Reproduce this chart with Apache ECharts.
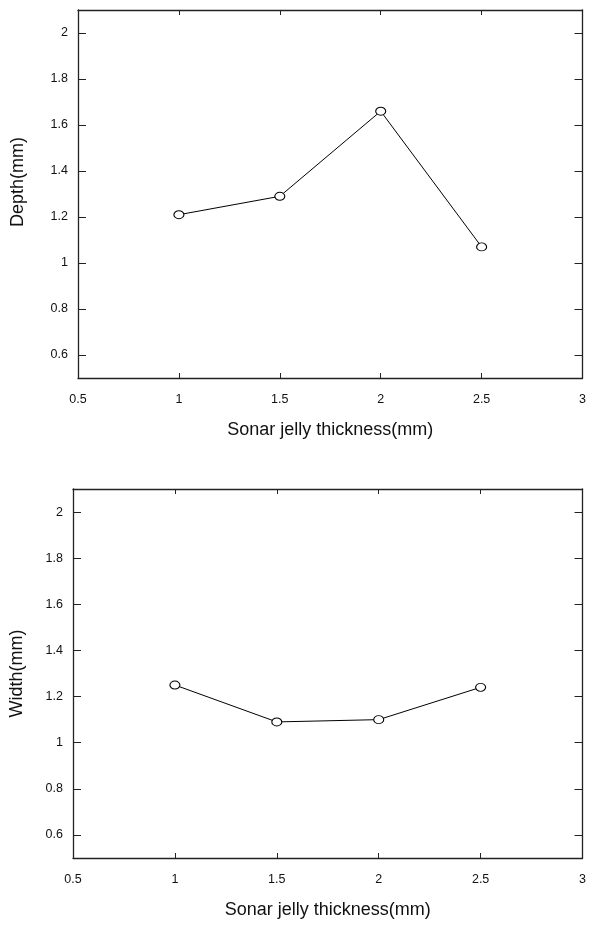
<!DOCTYPE html>
<html>
<head>
<meta charset="utf-8">
<script src="https://cdn.jsdelivr.net/npm/echarts@6/dist/echarts.min.js"></script>
<style>
html, body { margin: 0; padding: 0; background: #fff; }
#chart { width: 589px; height: 926px; }
</style>
</head>
<body>
<div id="chart"></div>
<script>
// data
const thickness = [1, 1.5, 2, 2.5]
const depth = [1.21, 1.29, 1.66, 1.07]
const widthVals = [1.25, 1.09, 1.10, 1.24]
const yTicks = [0.6, 0.8, 1, 1.2, 1.4, 1.6, 1.8, 2]
const xInnerTicks = [1, 1.5, 2, 2.5]

const lineColor = '#222'
const font = "'Liberation Sans', Arial, sans-serif"
const marker = 'path://M -1 0 A 1 1 0 1 0 1 0 A 1 1 0 1 0 -1 0 Z'

function pairs(ys){
    return thickness.map((x, i) => [x, ys[i]])
}

// bottom x axis with labels + top x axis as frame
function xAxes(gridIndex){
    return [
        {
            gridIndex: gridIndex,
            type: 'value',
            min: 0.5,
            max: 3,
            interval: 0.5,
            name: 'Sonar jelly thickness(mm)',
            nameLocation: 'middle',
            nameGap: 43,
            nameTextStyle: { fontFamily: font, fontSize: 18, color: '#111' },
            axisLine: { lineStyle: { color: lineColor, width: 1.3 } },
            axisTick: { inside: true, length: 5, customValues: xInnerTicks, lineStyle: { color: lineColor } },
            axisLabel: { margin: 15, fontFamily: font, fontSize: 12.5, color: '#111' },
            splitLine: { show: false }
        },
        {
            gridIndex: gridIndex,
            type: 'value',
            position: 'top',
            min: 0.5,
            max: 3,
            interval: 0.5,
            axisLine: { show: true, lineStyle: { color: lineColor, width: 1.3 } },
            axisTick: { show: true, inside: true, length: 5, customValues: xInnerTicks, lineStyle: { color: lineColor } },
            axisLabel: { show: false },
            splitLine: { show: false }
        }
    ]
}

function yAxes(gridIndex, title, gap, pad){
    return [
        {
            gridIndex: gridIndex,
            type: 'value',
            min: 0.5,
            max: 2.1,
            name: title,
            nameLocation: 'middle',
            nameGap: gap,
            nameRotate: 90,
            nameTextStyle: { fontFamily: font, fontSize: 18, color: '#111', padding: pad },
            axisLine: { show: true, lineStyle: { color: lineColor, width: 1.3 } },
            axisTick: { show: true, inside: true, length: 8, customValues: yTicks, lineStyle: { color: lineColor } },
            axisLabel: { margin: 10, customValues: yTicks, fontFamily: font, fontSize: 12.5, color: '#111' },
            splitLine: { show: false }
        },
        {
            gridIndex: gridIndex,
            type: 'value',
            position: 'right',
            min: 0.5,
            max: 2.1,
            axisLine: { show: true, lineStyle: { color: lineColor, width: 1.3 } },
            axisTick: { show: true, inside: true, length: 8, customValues: yTicks, lineStyle: { color: lineColor } },
            axisLabel: { show: false },
            splitLine: { show: false }
        }
    ]
}

function lineSeries(xIndex, yIndex, name, ys){
    return {
        name: name,
        type: 'line',
        xAxisIndex: xIndex,
        yAxisIndex: yIndex,
        data: pairs(ys),
        symbol: marker,
        symbolSize: [10, 8],
        itemStyle: { color: '#fff', borderColor: '#000', borderWidth: 1 },
        lineStyle: { color: '#000', width: 1 },
        emphasis: { disabled: true },
        z: 3
    }
}

const chart = echarts.init(document.getElementById('chart'))
chart.setOption({
    animation: false,
    backgroundColor: '#fff',
    grid: [
        { left: 78, top: 10, right: 3, height: 368 },
        { left: 73, top: 489, right: 2, height: 369 }
    ],
    xAxis: [...xAxes(0), ...xAxes(1)],
    yAxis: [...yAxes(0, 'Depth(mm)', 51, [0, 0, 0, 24]), ...yAxes(1, 'Width(mm)', 47, 0)],
    series: [
        lineSeries(0, 0, 'Depth', depth),
        lineSeries(2, 2, 'Width', widthVals)
    ]
})
</script>
</body>
</html>
